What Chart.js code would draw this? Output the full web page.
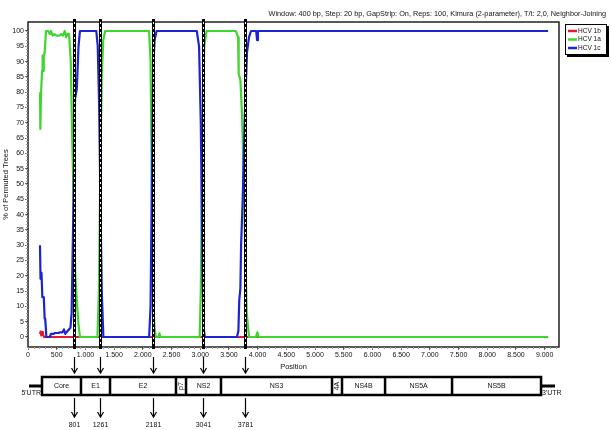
<!DOCTYPE html>
<html>
<head>
<meta charset="utf-8">
<title>Bootscan HCV</title>
<script src="https://cdn.jsdelivr.net/npm/chart.js@4.4.1/dist/chart.umd.min.js"></script>
<style>
  html, body { margin: 0; padding: 0; background: #fff; overflow: hidden; }
  #wrap { position: relative; width: 611px; height: 430px; }
</style>
</head>
<body>
<div id="wrap"><canvas id="bootscan"></canvas></div>
<script>
// Bootscan data (position in bp, % of permuted trees)
const posHCV1b = [209, 220, 232, 245, 260, 280, 9060];
const valHCV1b = [1, 1.8, 0.5, 1.6, 0.8, 0, 0];

const posHCV1a = [209, 215, 228, 245, 255, 262, 275, 290, 314, 350, 380, 400, 430, 460, 500, 540, 580, 610, 640, 665, 690, 715, 745, 770, 801, 825, 850, 880, 905,
  1210, 1235, 1261, 1285, 1310, 1345, 2110, 2135, 2160, 2181, 2205, 2225, 2270, 2290, 2310,
  2990, 3010, 3041, 3070, 3110, 3620, 3660, 3670, 3700, 3730, 3760, 3781, 3810, 3850, 3970, 3995, 4020, 9060];
const valHCV1a = [80, 68, 80, 87, 92, 87, 92, 93, 100, 100, 99, 100, 98.5, 99, 98.5, 98.5, 99, 98.5, 100, 98, 99, 99, 90, 65, 40, 20, 12, 4, 0,
  0, 15, 55, 85, 97, 100, 100, 90, 45, 12, 3, 0, 0, 1.2, 0,
  0, 15, 70, 95, 100, 100, 98, 86, 84, 72, 50, 30, 8, 0, 0, 1.5, 0, 0];

const posHCV1c = [209, 218, 235, 250, 275, 290, 300, 320, 380, 400, 440, 470, 520, 560, 600, 625, 650, 690, 740, 760, 780, 801, 820, 850, 880, 905,
  1190, 1215, 1240, 1261, 1285, 1313, 2110, 2135, 2160, 2181, 2205, 2240,
  2940, 2980, 3010, 3041, 3060, 3080, 3640, 3665, 3680, 3700, 3712, 3740, 3781, 3815, 3850, 3885, 3975, 3990, 4005, 9060];
const valHCV1c = [30, 19, 21, 13, 13, 6, 6, 0, 0, 1, 1, 1.3, 1.3, 1.5, 1.5, 2.5, 1, 2, 3, 8, 30, 55, 78, 81, 95, 100,
  100, 95, 75, 45, 15, 0, 0, 10, 55, 88, 97, 100,
  100, 95, 70, 20, 3, 0, 0, 2, 12, 16, 30, 45, 75, 93, 98, 100, 100, 97, 100, 100];

const seriesNames = ['HCV 1b', 'HCV 1a', 'HCV 1c'];
const seriesColors = ['#e8192c', '#3fd62f', '#1b24d4'];

// recombination breakpoints
const breakpoints = [801, 1261, 2181, 3041, 3781];

// genome map (bp)
const geneNames = ['Core', 'E1', 'E2', 'p7', 'NS2', 'NS3', '4A', 'NS4B', 'NS5A', 'NS5B'];
const geneStarts = [244, 923, 1429, 2578, 2753, 3362, 5296, 5470, 6220, 7387];
const geneEnds = [923, 1429, 2578, 2753, 3362, 5296, 5470, 6220, 7387, 8937];
const utr5Start = 17;
const utr3End = 9181;

// axis ticks
const xTickValues = [0, 500, 1000, 1500, 2000, 2500, 3000, 3500, 4000, 4500, 5000, 5500, 6000, 6500, 7000, 7500, 8000, 8500, 9000];
const yTickValues = [0, 5, 10, 15, 20, 25, 30, 35, 40, 45, 50, 55, 60, 65, 70, 75, 80, 85, 90, 95, 100];

const titleText = 'Window: 400 bp, Step: 20 bp, GapStrip: On, Reps: 100, Kimura (2-parameter), T/t: 2,0, Neighbor-Joining';

const FONT = '"Liberation Sans", Arial, Helvetica, sans-serif';
Chart.defaults.font.family = FONT;
Chart.defaults.color = '#111';

function toPoints(xs, ys) {
  return xs.map((x, i) => ({ x: x, y: ys[i] }));
}

function line(ctx, x1, y1, x2, y2) {
  ctx.beginPath();
  ctx.moveTo(x1, y1);
  ctx.lineTo(x2, y2);
  ctx.stroke();
}

function arrowDown(ctx, x, y1, y2) {
  line(ctx, x, y1, x, y2);
  ctx.beginPath();
  ctx.moveTo(x - 3, y2 - 5);
  ctx.lineTo(x, y2);
  ctx.lineTo(x + 3, y2 - 5);
  ctx.stroke();
}

function dotted(v) {
  return String(v).replace(/\B(?=(\d{3})+(?!\d))/g, '.');
}

const overlayPlugin = {
  id: 'overlay',
  afterDatasetsDraw(chart) {
    const { ctx, chartArea: a, scales: { x, y } } = chart;
    ctx.save();

    // frame
    ctx.strokeStyle = '#222';
    ctx.lineWidth = 1.5;
    ctx.strokeRect(a.left, a.top, a.right - a.left, a.bottom - a.top);

    // minor ticks
    ctx.strokeStyle = '#999';
    ctx.lineWidth = 1;
    for (let v = 0; v <= 100; v++) {
      const py = Math.round(y.getPixelForValue(v)) + 0.5;
      line(ctx, a.left - 2, py, a.left, py);
    }
    for (let v = 0; v <= 9200; v += 100) {
      const px = Math.round(x.getPixelForValue(v)) + 0.5;
      line(ctx, px, a.bottom, px, a.bottom + 2);
    }

    // breakpoint lines
    breakpoints.forEach(bp => {
      const px = Math.round(x.getPixelForValue(bp)) + 0.5;
      ctx.setLineDash([]);
      ctx.strokeStyle = '#000';
      ctx.lineWidth = 3;
      line(ctx, px, a.top - 3, px, a.bottom + 2);
      ctx.strokeStyle = '#fff';
      ctx.lineWidth = 1;
      ctx.setLineDash([2, 3]);
      line(ctx, px, a.top, px, a.bottom);
    });
    ctx.restore();
  },
  afterDraw(chart) {
    const { ctx, scales: { x } } = chart;
    ctx.save();

    // title
    ctx.fillStyle = '#111';
    ctx.font = '7.3px ' + FONT;
    ctx.textAlign = 'right';
    ctx.textBaseline = 'middle';
    ctx.fillText(titleText, 606, 14);

    // legend
    const lx = 565, ly = 24, lw = 42, lh = 31;
    ctx.fillStyle = '#000';
    ctx.fillRect(lx + 2, ly + 2, lw, lh);
    ctx.fillStyle = '#fff';
    ctx.fillRect(lx, ly, lw, lh);
    ctx.strokeStyle = '#000';
    ctx.lineWidth = 1;
    ctx.strokeRect(lx + 0.5, ly + 0.5, lw - 1, lh - 1);
    ctx.textAlign = 'left';
    ctx.font = '6.5px ' + FONT;
    seriesNames.forEach((name, i) => {
      const ry = ly + 7 + i * 8.5;
      ctx.strokeStyle = seriesColors[i];
      ctx.lineWidth = 2.5;
      line(ctx, lx + 3, ry, lx + 12, ry);
      ctx.fillStyle = '#111';
      ctx.fillText(name, lx + 13, ry);
    });

    // genome map
    const mapTop = 377, mapBot = 395, mapMid = 386;
    const x0 = x.getPixelForValue(geneStarts[0]);
    const x1 = x.getPixelForValue(geneEnds[geneEnds.length - 1]);
    ctx.strokeStyle = '#000';
    ctx.lineWidth = 3;
    line(ctx, x.getPixelForValue(utr5Start), mapMid, x0, mapMid);
    line(ctx, x1, mapMid, x.getPixelForValue(utr3End), mapMid);
    ctx.lineWidth = 2.5;
    ctx.strokeRect(x0, mapTop, x1 - x0, mapBot - mapTop);
    geneStarts.forEach((s, i) => {
      if (i > 0) {
        const px = x.getPixelForValue(s);
        line(ctx, px, mapTop, px, mapBot);
      }
    });
    ctx.fillStyle = '#111';
    ctx.font = '7px ' + FONT;
    ctx.textAlign = 'center';
    ctx.textBaseline = 'middle';
    geneNames.forEach((name, i) => {
      const cx = (x.getPixelForValue(geneStarts[i]) + x.getPixelForValue(geneEnds[i])) / 2;
      if (name === 'p7' || name === '4A') {
        ctx.save();
        ctx.translate(cx, mapMid);
        ctx.rotate(-Math.PI / 2);
        ctx.fillText(name, 0, 0);
        ctx.restore();
      } else {
        ctx.fillText(name, cx, mapMid);
      }
    });
    ctx.textAlign = 'right';
    ctx.fillText("5'UTR", x0 - 1, mapMid + 7);
    ctx.textAlign = 'left';
    ctx.fillText("3'UTR", x1 + 1, mapMid + 7);

    // breakpoint arrows
    ctx.lineWidth = 1.2;
    ctx.textAlign = 'center';
    breakpoints.forEach(bp => {
      const px = Math.round(x.getPixelForValue(bp)) + 0.5;
      arrowDown(ctx, px, 357, 373);
      arrowDown(ctx, px, 398, 417);
      ctx.fillText(String(bp), px, 425);
    });
    ctx.restore();
  }
};

const ctx = document.getElementById('bootscan').getContext('2d');
const chart = new Chart(ctx, {
  type: 'line',
  data: {
    datasets: [
      { label: seriesNames[0], data: toPoints(posHCV1b, valHCV1b), borderColor: seriesColors[0], order: 3 },
      { label: seriesNames[1], data: toPoints(posHCV1a, valHCV1a), borderColor: seriesColors[1], order: 2 },
      { label: seriesNames[2], data: toPoints(posHCV1c, valHCV1c), borderColor: seriesColors[2], order: 1 }
    ]
  },
  options: {
    responsive: true,
    maintainAspectRatio: false,
    animation: false,
    parsing: false,
    elements: {
      line: { borderWidth: 2.2, tension: 0, fill: false, borderJoinStyle: 'round' },
      point: { radius: 0 }
    },
    layout: { padding: { left: 0, top: 22, right: 52, bottom: 59 } },
    plugins: {
      legend: { display: false },
      title: { display: false },
      tooltip: { enabled: false }
    },
    scales: {
      x: {
        type: 'linear',
        min: 0,
        max: 9250,
        afterFit: scale => { scale.height = 24; },
        afterBuildTicks: scale => { scale.ticks = xTickValues.map(v => ({ value: v })); },
        grid: { drawOnChartArea: false, drawTicks: true, tickLength: 3, color: '#666' },
        border: { display: false },
        ticks: {
          autoSkip: false,
          maxRotation: 0,
          padding: 1,
          font: { size: 7 },
          callback: v => dotted(v)
        },
        title: { display: true, text: 'Position', font: { size: 7.5 }, padding: 0 }
      },
      y: {
        type: 'linear',
        min: -3.27,
        max: 102.94,
        afterFit: scale => { scale.width = 28; },
        afterBuildTicks: scale => { scale.ticks = yTickValues.map(v => ({ value: v })); },
        grid: { drawOnChartArea: false, drawTicks: true, tickLength: 3, color: '#666' },
        border: { display: false },
        ticks: { padding: 1, font: { size: 7 } },
        title: { display: true, text: '% of Permuted Trees', font: { size: 7.5 }, padding: { top: 1, bottom: 0 } }
      }
    }
  },
  plugins: [overlayPlugin]
});
</script>
</body>
</html>
